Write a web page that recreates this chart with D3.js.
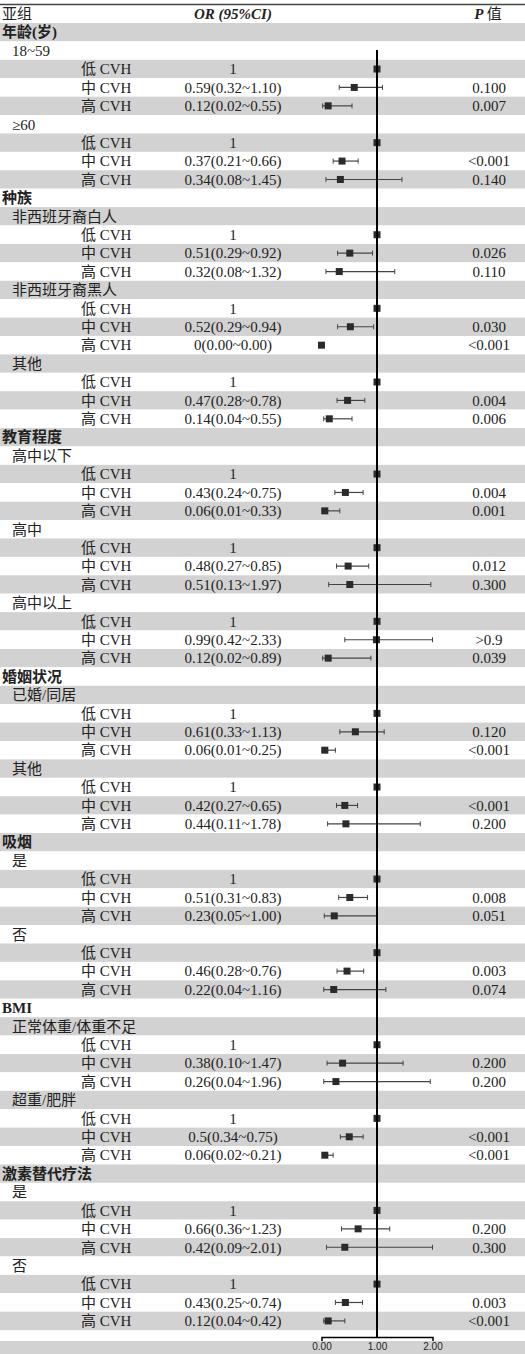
<!DOCTYPE html>
<html>
<head>
<meta charset="utf-8">
<script src="https://cdn.jsdelivr.net/npm/d3@7"></script>
<style>
  body { margin: 0; background: #fff; }
  text { font-family: "Liberation Serif", "Noto Sans CJK SC", serif; fill: #222; }
</style>
</head>
<body>
<div id="root"></div>
<script>
// categories and subgroups, top to bottom
var categories = ["年龄(岁)", "种族", "教育程度", "婚姻状况", "吸烟", "BMI", "激素替代疗法"];
var subgroups = [
  ["18~59", "≥60"],
  ["非西班牙裔白人", "非西班牙裔黑人", "其他"],
  ["高中以下", "高中", "高中以上"],
  ["已婚/同居", "其他"],
  ["是", "否"],
  ["正常体重/体重不足", "超重/肥胖"],
  ["是", "否"]
];
var cvhLevels = ["低 CVH", "中 CVH", "高 CVH"];

// one entry per subgroup: [低, 中, 高]
var orValues = [
  [1, 0.59, 0.12], [1, 0.37, 0.34],
  [1, 0.51, 0.32], [1, 0.52, 0], [1, 0.47, 0.14],
  [1, 0.43, 0.06], [1, 0.48, 0.51], [1, 0.99, 0.12],
  [1, 0.61, 0.06], [1, 0.42, 0.44],
  [1, 0.51, 0.23], [1, 0.46, 0.22],
  [1, 0.38, 0.26], [1, 0.5, 0.06],
  [1, 0.66, 0.42], [1, 0.43, 0.12]
];
var ciLower = [
  [null, 0.32, 0.02], [null, 0.21, 0.08],
  [null, 0.29, 0.08], [null, 0.29, null], [null, 0.28, 0.04],
  [null, 0.24, 0.01], [null, 0.27, 0.13], [null, 0.42, 0.02],
  [null, 0.33, 0.01], [null, 0.27, 0.11],
  [null, 0.31, 0.05], [null, 0.28, 0.04],
  [null, 0.10, 0.04], [null, 0.34, 0.02],
  [null, 0.36, 0.09], [null, 0.25, 0.04]
];
var ciUpper = [
  [null, 1.10, 0.55], [null, 0.66, 1.45],
  [null, 0.92, 1.32], [null, 0.94, null], [null, 0.78, 0.55],
  [null, 0.75, 0.33], [null, 0.85, 1.97], [null, 2.33, 0.89],
  [null, 1.13, 0.25], [null, 0.65, 1.78],
  [null, 0.83, 1.00], [null, 0.76, 1.16],
  [null, 1.47, 1.96], [null, 0.75, 0.21],
  [null, 1.23, 2.01], [null, 0.74, 0.42]
];
var orLabels = [
  ["1", "0.59(0.32~1.10)", "0.12(0.02~0.55)"], ["1", "0.37(0.21~0.66)", "0.34(0.08~1.45)"],
  ["1", "0.51(0.29~0.92)", "0.32(0.08~1.32)"], ["1", "0.52(0.29~0.94)", "0(0.00~0.00)"], ["1", "0.47(0.28~0.78)", "0.14(0.04~0.55)"],
  ["1", "0.43(0.24~0.75)", "0.06(0.01~0.33)"], ["1", "0.48(0.27~0.85)", "0.51(0.13~1.97)"], ["1", "0.99(0.42~2.33)", "0.12(0.02~0.89)"],
  ["1", "0.61(0.33~1.13)", "0.06(0.01~0.25)"], ["1", "0.42(0.27~0.65)", "0.44(0.11~1.78)"],
  ["1", "0.51(0.31~0.83)", "0.23(0.05~1.00)"], ["", "0.46(0.28~0.76)", "0.22(0.04~1.16)"],
  ["1", "0.38(0.10~1.47)", "0.26(0.04~1.96)"], ["1", "0.5(0.34~0.75)", "0.06(0.02~0.21)"],
  ["1", "0.66(0.36~1.23)", "0.42(0.09~2.01)"], ["1", "0.43(0.25~0.74)", "0.12(0.04~0.42)"]
];
var pLabels = [
  ["", "0.100", "0.007"], ["", "<0.001", "0.140"],
  ["", "0.026", "0.110"], ["", "0.030", "<0.001"], ["", "0.004", "0.006"],
  ["", "0.004", "0.001"], ["", "0.012", "0.300"], ["", ">0.9", "0.039"],
  ["", "0.120", "<0.001"], ["", "<0.001", "0.200"],
  ["", "0.008", "0.051"], ["", "0.003", "0.074"],
  ["", "0.200", "0.200"], ["", "<0.001", "<0.001"],
  ["", "0.200", "0.300"], ["", "0.003", "<0.001"]
];
var axisTicks = [0, 1, 2];

var width = 525;
var height = 1354;
var rowH = 18.41;
var top0 = 23;

// flatten into rows
var rows = [];
var s = 0;
categories.forEach(function (cat, ci) {
  rows.push({ type: "cat", label: cat });
  subgroups[ci].forEach(function (sg) {
    rows.push({ type: "sub", label: sg });
    cvhLevels.forEach(function (lv, li) {
      rows.push({
        type: "cvh",
        label: lv,
        or: orValues[s][li],
        lo: ciLower[s][li],
        hi: ciUpper[s][li],
        orText: orLabels[s][li],
        pText: pLabels[s][li]
      });
    });
    s++;
  });
});

var svg = d3
  .select("#root")
  .append("svg")
  .attr("width", width)
  .attr("height", height);

var x = d3.scaleLinear().domain([0, 2]).range([321.5, 432.5]).clamp(true);
var y = function (i) { return top0 + i * rowH; };

// striped background
svg
  .selectAll(".stripe")
  .data(rows)
  .enter()
  .append("rect")
  .attr("class", "stripe")
  .attr("x", 0)
  .attr("y", (d, i) => y(i))
  .attr("width", width)
  .attr("height", rowH)
  .attr("fill", (d, i) => (i % 2 === 0 ? "#d2d2d2" : "#ffffff"));

var axisY = 1337;
svg
  .append("rect")
  .attr("x", 0)
  .attr("y", 1341)
  .attr("width", width)
  .attr("height", height - 1341)
  .attr("fill", "#d2d2d2");

// top rule
svg
  .append("line")
  .attr("x1", 0)
  .attr("x2", width)
  .attr("y1", 4.5)
  .attr("y2", 4.5)
  .attr("stroke", "#444")
  .attr("stroke-width", 1.5);

// header
var header = svg.append("g").style("font-size", "15px");
header.append("text").attr("x", 2).attr("y", 14).attr("dy", "0.35em").text("亚组");
header
  .append("text")
  .attr("x", 233)
  .attr("y", 14)
  .attr("dy", "0.35em")
  .attr("text-anchor", "middle")
  .style("font-weight", "bold")
  .style("font-style", "italic")
  .text("OR (95%CI)");
var pHead = header
  .append("text")
  .attr("x", 488)
  .attr("y", 14)
  .attr("dy", "0.35em")
  .attr("text-anchor", "middle");
pHead.append("tspan").style("font-weight", "bold").style("font-style", "italic").text("P ");
pHead.append("tspan").text("值");

// row texts
var rowG = svg
  .selectAll(".row")
  .data(rows)
  .enter()
  .append("g")
  .attr("class", "row")
  .attr("transform", (d, i) => "translate(0," + (y(i) + rowH / 2) + ")")
  .style("font-size", "15px");

rowG
  .append("text")
  .attr("x", (d) => (d.type === "cat" ? 2 : d.type === "sub" ? 12 : 81))
  .attr("dy", "0.35em")
  .style("font-weight", (d) => (d.type === "cat" ? "bold" : "normal"))
  .text((d) => d.label);

var cvhRows = rowG.filter((d) => d.type === "cvh");
cvhRows
  .append("text")
  .attr("x", 233)
  .attr("dy", "0.35em")
  .attr("text-anchor", "middle")
  .text((d) => d.orText);
cvhRows
  .append("text")
  .attr("x", 489)
  .attr("dy", "0.35em")
  .attr("text-anchor", "middle")
  .text((d) => d.pText);

// confidence intervals
var ciRows = cvhRows.filter((d) => d.lo !== null);
ciRows
  .append("line")
  .attr("x1", (d) => x(d.lo))
  .attr("x2", (d) => x(d.hi))
  .attr("stroke", "#444")
  .attr("stroke-width", 1.2);
ciRows
  .append("line")
  .attr("x1", (d) => x(d.lo))
  .attr("x2", (d) => x(d.lo))
  .attr("y1", -2.5)
  .attr("y2", 2.5)
  .attr("stroke", "#444")
  .attr("stroke-width", 1);
ciRows
  .append("line")
  .attr("x1", (d) => x(d.hi))
  .attr("x2", (d) => x(d.hi))
  .attr("y1", -2.5)
  .attr("y2", 2.5)
  .attr("stroke", "#444")
  .attr("stroke-width", 1);

// reference line at OR = 1
svg
  .append("line")
  .attr("x1", x(1))
  .attr("x2", x(1))
  .attr("y1", 50)
  .attr("y2", axisY)
  .attr("stroke", "#000")
  .attr("stroke-width", 2);

// point estimates
cvhRows
  .append("rect")
  .attr("x", (d) => x(d.or) - 3.5)
  .attr("y", -3.5)
  .attr("width", 7)
  .attr("height", 7)
  .attr("fill", "#2b2b2b");

// bottom axis
var xAxis = d3
  .axisBottom(x)
  .tickValues(axisTicks)
  .tickFormat(d3.format(".2f"))
  .tickSizeInner(0)
  .tickSizeOuter(4)
  .tickPadding(6);
var gAxis = svg
  .append("g")
  .attr("transform", "translate(0," + axisY + ")")
  .call(xAxis);
gAxis.select(".domain").attr("stroke", "#000").attr("stroke-width", 1.5);
gAxis
  .selectAll("text")
  .style("font-family", "'Liberation Sans', Arial, sans-serif")
  .style("font-size", "10px")
  .style("fill", "#222");
</script>
</body>
</html>
